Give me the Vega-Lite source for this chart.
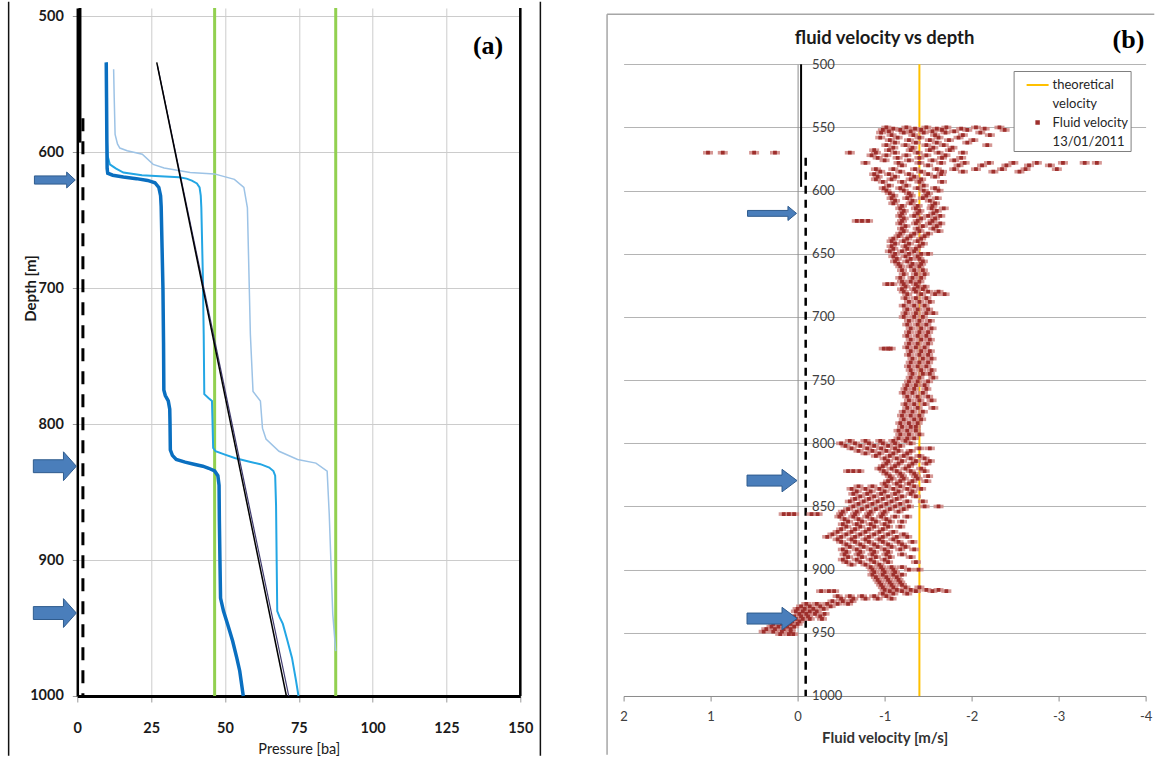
{
  "$schema": "https://vega.github.io/schema/vega-lite/v6.json",
  "background": "white",
  "padding": {"left": 7.3, "top": 0, "right": 0, "bottom": 0},
  "bounds": "flush",
  "spacing": 103.3,
  "resolve": {
    "scale": {"color": "independent", "shape": "independent", "size": "independent"},
    "legend": {"color": "independent", "shape": "independent", "size": "independent"}
  },
  "config": {"view": {"stroke": null}, "font": "Lato"},
  "datasets": {
    "thick": [{"p":9.8,"d":534},{"p":9.9,"d":560},{"p":10.0,"d":590},{"p":10.1,"d":612},{"p":10.3,"d":615.5},{"p":12,"d":617},{"p":15.6,"d":618.3},{"p":20,"d":619.5},{"p":23.8,"d":620.8},{"p":26.3,"d":622.5},{"p":27.6,"d":626},{"p":28.2,"d":632},{"p":28.4,"d":640},{"p":28.7,"d":670},{"p":29.0,"d":700},{"p":29.2,"d":740},{"p":29.3,"d":775},{"p":29.8,"d":779},{"p":30.8,"d":783},{"p":31.3,"d":789},{"p":31.4,"d":800},{"p":31.5,"d":819},{"p":32.2,"d":823},{"p":33.5,"d":826},{"p":36.5,"d":828},{"p":39.5,"d":829.5},{"p":42.5,"d":831},{"p":44.5,"d":832.5},{"p":46.5,"d":834.5},{"p":47.6,"d":838},{"p":48.0,"d":845},{"p":48.1,"d":870},{"p":48.3,"d":900},{"p":48.5,"d":928},{"p":49.5,"d":937.5},{"p":51,"d":948},{"p":52.6,"d":959.6},{"p":54,"d":972},{"p":55,"d":981.6},{"p":56.2,"d":1000}],
    "medium": [{"p":10,"d":534},{"p":10,"d":590},{"p":10.3,"d":603},{"p":11,"d":609},{"p":13,"d":612},{"p":15.6,"d":615},{"p":21.9,"d":617},{"p":28,"d":617.8},{"p":34.5,"d":618.5},{"p":37,"d":619.5},{"p":38.8,"d":621},{"p":40.5,"d":623},{"p":41.4,"d":626},{"p":41.8,"d":632},{"p":42,"d":641},{"p":42.5,"d":690},{"p":42.8,"d":734},{"p":43.0,"d":778},{"p":44.5,"d":781},{"p":45.6,"d":783},{"p":45.8,"d":800},{"p":46.0,"d":817.6},{"p":46.8,"d":820},{"p":50,"d":822.5},{"p":53.3,"d":825},{"p":58,"d":827.5},{"p":62,"d":829.5},{"p":65,"d":832},{"p":66.4,"d":834.6},{"p":67,"d":838},{"p":67.3,"d":860},{"p":67.5,"d":900},{"p":67.7,"d":937.5},{"p":68.5,"d":942},{"p":69.6,"d":947},{"p":71,"d":958},{"p":72.7,"d":972},{"p":74,"d":988},{"p":74.9,"d":1000}],
    "pale": [{"p":12.3,"d":539},{"p":12.5,"d":560},{"p":12.8,"d":587},{"p":13.6,"d":594},{"p":14.4,"d":597},{"p":16.9,"d":599},{"p":22,"d":601.6},{"p":25.7,"d":609},{"p":29.4,"d":611.6},{"p":38.2,"d":615},{"p":46.4,"d":616},{"p":53.2,"d":620},{"p":56.4,"d":626},{"p":57.6,"d":641},{"p":58.6,"d":734},{"p":59.5,"d":776},{"p":62,"d":783},{"p":62.7,"d":803},{"p":63.9,"d":811},{"p":68.3,"d":820},{"p":74.6,"d":826},{"p":80.8,"d":828.7},{"p":84.6,"d":834.6},{"p":85.3,"d":866},{"p":86.5,"d":939.7},{"p":87.5,"d":967}],
    "black1": [{"p":26.9,"d":534},{"p":70.8,"d":1000}],
    "black2": [{"p":27.2,"d":537},{"p":71.6,"d":1000}],
    "green": [{"p":46.5},{"p":87.5}],
    "tubeA": [{"p":0.9,"d":494},{"p":0.9,"d":593}],
    "casingA": [{"p":1.9,"d":575},{"p":1.9,"d":1000}],
    "arrowA1": [{"p":-7.6,"d":620.5}],
    "arrowA2": [{"p":-7.6,"d":831},{"p":-7.6,"d":939}],
    "tubeB": [{"v":-0.04,"d":500},{"v":-0.04,"d":597}],
    "casingB": [{"v":-0.093,"d":574},{"v":-0.093,"d":1000}],
    "arrowB1": [{"v":0.294,"d":618}],
    "arrowB2": [{"v":0.294,"d":829.5},{"v":0.294,"d":938.7}],
    "scatter": [
{"v":-1.02,"d":550},{"v":-1.25,"d":550},{"v":-1.48,"d":550},{"v":-1.71,"d":550},{"v":-2.05,"d":550},{"v":-2.32,"d":550},
{"v":-1.10,"d":551},{"v":-1.35,"d":551},{"v":-1.60,"d":551},{"v":-1.88,"d":551},{"v":-2.15,"d":551},
{"v":-0.98,"d":552},{"v":-1.18,"d":552},{"v":-1.42,"d":552},{"v":-1.66,"d":552},{"v":-1.95,"d":552},{"v":-2.38,"d":552},
{"v":-1.05,"d":553},{"v":-1.30,"d":553},{"v":-1.55,"d":553},{"v":-1.80,"d":553},
{"v":-0.96,"d":554},{"v":-1.22,"d":554},{"v":-1.45,"d":554},{"v":-1.70,"d":554},{"v":-2.10,"d":554},
{"v":-1.08,"d":556},{"v":-1.33,"d":556},{"v":-1.58,"d":556},{"v":-1.90,"d":556},{"v":-2.21,"d":556},
{"v":-0.95,"d":558},{"v":-1.15,"d":558},{"v":-1.40,"d":558},{"v":-1.62,"d":558},{"v":-1.85,"d":558},
{"v":-1.06,"d":560},{"v":-1.28,"d":560},{"v":-1.52,"d":560},{"v":-1.74,"d":560},{"v":-2.02,"d":560},
{"v":-1.12,"d":562},{"v":-1.36,"d":562},{"v":-1.60,"d":562},{"v":-1.95,"d":562},
{"v":-1.02,"d":564},{"v":-1.24,"d":564},{"v":-1.48,"d":564},{"v":-1.68,"d":564},{"v":-2.18,"d":564},
{"v":-1.10,"d":566},{"v":-1.32,"d":566},{"v":-1.56,"d":566},{"v":-1.78,"d":566},
{"v":-0.88,"d":568},{"v":-1.05,"d":568},{"v":-1.30,"d":568},{"v":-1.52,"d":568},{"v":-1.75,"d":568},
{"v":1.03,"d":570},{"v":0.86,"d":570},{"v":0.50,"d":570},{"v":0.26,"d":570},{"v":-0.60,"d":570},{"v":-0.90,"d":570},{"v":-1.12,"d":570},{"v":-1.38,"d":570},{"v":-1.62,"d":570},{"v":-1.90,"d":570},
{"v":-0.85,"d":572},{"v":-1.02,"d":572},{"v":-1.25,"d":572},{"v":-1.48,"d":572},{"v":-1.70,"d":572},
{"v":-0.92,"d":574},{"v":-1.15,"d":574},{"v":-1.40,"d":574},{"v":-1.66,"d":574},{"v":-1.88,"d":574},
{"v":-1.00,"d":576},{"v":-1.28,"d":576},{"v":-1.55,"d":576},{"v":-1.80,"d":576},
{"v":-0.78,"d":578},{"v":-1.16,"d":578},{"v":-1.40,"d":578},{"v":-1.65,"d":578},{"v":-1.92,"d":578},{"v":-2.20,"d":578},{"v":-2.48,"d":578},{"v":-2.75,"d":578},{"v":-3.05,"d":578},{"v":-3.30,"d":578},{"v":-3.44,"d":578},
{"v":-1.20,"d":580},{"v":-1.50,"d":580},{"v":-1.85,"d":580},{"v":-2.12,"d":580},{"v":-2.40,"d":580},{"v":-2.66,"d":580},{"v":-2.90,"d":580},
{"v":-0.90,"d":583},{"v":-1.10,"d":583},{"v":-1.35,"d":583},{"v":-1.60,"d":583},{"v":-1.80,"d":583},{"v":-2.05,"d":583},{"v":-2.35,"d":583},{"v":-2.62,"d":583},{"v":-2.98,"d":583},
{"v":-0.95,"d":585},{"v":-1.18,"d":585},{"v":-1.42,"d":585},{"v":-1.66,"d":585},{"v":-1.90,"d":585},{"v":-2.25,"d":585},{"v":-2.55,"d":585},
{"v":-0.88,"d":587},{"v":-1.05,"d":587},{"v":-1.28,"d":587},{"v":-1.50,"d":587},{"v":-1.65,"d":587},
{"v":-0.92,"d":589},{"v":-1.12,"d":589},{"v":-1.34,"d":589},{"v":-1.58,"d":589},
{"v":-0.90,"d":591},{"v":-1.08,"d":591},{"v":-1.30,"d":591},{"v":-1.42,"d":591},
{"v":-0.98,"d":593},{"v":-1.20,"d":593},{"v":-1.40,"d":593},{"v":-1.66,"d":593},
{"v":-1.05,"d":596},{"v":-1.25,"d":596},{"v":-1.45,"d":596},
{"v":-0.99,"d":598},{"v":-1.18,"d":598},{"v":-1.38,"d":598},{"v":-1.58,"d":598},
{"v":-1.02,"d":600},{"v":-1.22,"d":600},{"v":-1.45,"d":600},{"v":-1.62,"d":600},
{"v":-1.06,"d":602},{"v":-1.28,"d":602},{"v":-1.50,"d":602},
{"v":-1.10,"d":604},{"v":-1.30,"d":604},{"v":-1.48,"d":604},
{"v":-1.08,"d":606},{"v":-1.26,"d":606},{"v":-1.44,"d":606},{"v":-1.60,"d":606},
{"v":-1.12,"d":608},{"v":-1.32,"d":608},{"v":-1.52,"d":608},
{"v":-1.10,"d":610},{"v":-1.30,"d":610},{"v":-1.58,"d":610},
{"v":-1.20,"d":612},{"v":-1.38,"d":612},{"v":-1.55,"d":612},
{"v":-1.18,"d":614},{"v":-1.36,"d":614},{"v":-1.54,"d":614},{"v":-1.68,"d":614},
{"v":-1.22,"d":616},{"v":-1.40,"d":616},{"v":-1.60,"d":616},
{"v":-1.20,"d":618},{"v":-1.38,"d":618},{"v":-1.56,"d":618},
{"v":-1.18,"d":620},{"v":-1.34,"d":620},{"v":-1.50,"d":620},{"v":-1.64,"d":620},
{"v":-1.22,"d":622},{"v":-1.42,"d":622},{"v":-1.58,"d":622},
{"v":-0.68,"d":624},{"v":-0.74,"d":624},{"v":-0.81,"d":624},{"v":-1.20,"d":624},{"v":-1.38,"d":624},{"v":-1.55,"d":624},
{"v":-1.18,"d":626},{"v":-1.36,"d":626},{"v":-1.52,"d":626},{"v":-1.64,"d":626},
{"v":-1.24,"d":628},{"v":-1.44,"d":628},{"v":-1.60,"d":628},
{"v":-1.20,"d":630},{"v":-1.38,"d":630},{"v":-1.56,"d":630},
{"v":-1.22,"d":632},{"v":-1.40,"d":632},{"v":-1.62,"d":632},
{"v":-1.18,"d":634},{"v":-1.34,"d":634},{"v":-1.50,"d":634},
{"v":-1.16,"d":636},{"v":-1.30,"d":636},{"v":-1.46,"d":636},
{"v":-1.10,"d":638},{"v":-1.26,"d":638},{"v":-1.42,"d":638},
{"v":-1.08,"d":640},{"v":-1.22,"d":640},{"v":-1.38,"d":640},
{"v":-1.12,"d":642},{"v":-1.28,"d":642},{"v":-1.44,"d":642},
{"v":-1.08,"d":644},{"v":-1.24,"d":644},{"v":-1.40,"d":644},
{"v":-1.10,"d":646},{"v":-1.26,"d":646},{"v":-1.36,"d":646},
{"v":-1.06,"d":648},{"v":-1.20,"d":648},{"v":-1.34,"d":648},
{"v":-1.12,"d":650},{"v":-1.28,"d":650},{"v":-1.42,"d":650},{"v":-1.50,"d":650},
{"v":-1.10,"d":652},{"v":-1.24,"d":652},{"v":-1.38,"d":652},
{"v":-1.14,"d":654},{"v":-1.30,"d":654},{"v":-1.40,"d":654},
{"v":-1.12,"d":656},{"v":-1.26,"d":656},{"v":-1.44,"d":656},
{"v":-1.16,"d":658},{"v":-1.32,"d":658},{"v":-1.42,"d":658},
{"v":-1.18,"d":660},{"v":-1.30,"d":660},{"v":-1.40,"d":660},
{"v":-1.20,"d":663},{"v":-1.34,"d":663},{"v":-1.44,"d":663},
{"v":-1.22,"d":666},{"v":-1.36,"d":666},{"v":-1.46,"d":666},
{"v":-1.18,"d":669},{"v":-1.32,"d":669},{"v":-1.42,"d":669},
{"v":-1.20,"d":672},{"v":-1.30,"d":672},{"v":-1.40,"d":672},
{"v":-1.03,"d":674},{"v":-1.09,"d":674},{"v":-1.22,"d":674},{"v":-1.36,"d":674},
{"v":-1.24,"d":676},{"v":-1.38,"d":676},{"v":-1.46,"d":676},
{"v":-1.20,"d":678},{"v":-1.34,"d":678},{"v":-1.44,"d":678},
{"v":-1.22,"d":680},{"v":-1.36,"d":680},{"v":-1.50,"d":680},{"v":-1.62,"d":680},
{"v":-1.26,"d":682},{"v":-1.42,"d":682},{"v":-1.58,"d":682},{"v":-1.69,"d":682},
{"v":-1.24,"d":685},{"v":-1.36,"d":685},{"v":-1.48,"d":685},
{"v":-1.28,"d":688},{"v":-1.40,"d":688},{"v":-1.52,"d":688},
{"v":-1.22,"d":691},{"v":-1.34,"d":691},{"v":-1.46,"d":691},
{"v":-1.26,"d":694},{"v":-1.38,"d":694},{"v":-1.50,"d":694},
{"v":-1.24,"d":697},{"v":-1.36,"d":697},{"v":-1.48,"d":697},{"v":-1.56,"d":697},
{"v":-1.22,"d":700},{"v":-1.34,"d":700},{"v":-1.44,"d":700},
{"v":-1.28,"d":703},{"v":-1.40,"d":703},{"v":-1.52,"d":703},
{"v":-1.26,"d":706},{"v":-1.38,"d":706},{"v":-1.48,"d":706},
{"v":-1.30,"d":709},{"v":-1.42,"d":709},{"v":-1.54,"d":709},
{"v":-1.28,"d":712},{"v":-1.40,"d":712},{"v":-1.50,"d":712},
{"v":-1.26,"d":715},{"v":-1.38,"d":715},{"v":-1.48,"d":715},
{"v":-1.30,"d":718},{"v":-1.42,"d":718},{"v":-1.52,"d":718},
{"v":-1.28,"d":721},{"v":-1.38,"d":721},{"v":-1.50,"d":721},
{"v":-1.26,"d":724},{"v":-1.36,"d":724},{"v":-1.46,"d":724},
{"v":-0.99,"d":725},{"v":-1.04,"d":725},{"v":-1.07,"d":725},
{"v":-1.30,"d":727},{"v":-1.42,"d":727},{"v":-1.52,"d":727},
{"v":-1.28,"d":730},{"v":-1.40,"d":730},{"v":-1.50,"d":730},
{"v":-1.32,"d":733},{"v":-1.44,"d":733},{"v":-1.54,"d":733},
{"v":-1.30,"d":736},{"v":-1.40,"d":736},{"v":-1.50,"d":736},
{"v":-1.28,"d":739},{"v":-1.38,"d":739},{"v":-1.48,"d":739},
{"v":-1.30,"d":742},{"v":-1.42,"d":742},{"v":-1.54,"d":742},
{"v":-1.32,"d":745},{"v":-1.44,"d":745},{"v":-1.52,"d":745},
{"v":-1.30,"d":748},{"v":-1.40,"d":748},{"v":-1.56,"d":748},
{"v":-1.28,"d":751},{"v":-1.38,"d":751},{"v":-1.50,"d":751},
{"v":-1.26,"d":754},{"v":-1.36,"d":754},{"v":-1.46,"d":754},
{"v":-1.24,"d":757},{"v":-1.34,"d":757},{"v":-1.48,"d":757},
{"v":-1.22,"d":760},{"v":-1.32,"d":760},{"v":-1.44,"d":760},
{"v":-1.26,"d":763},{"v":-1.38,"d":763},{"v":-1.50,"d":763},
{"v":-1.28,"d":766},{"v":-1.40,"d":766},{"v":-1.54,"d":766},
{"v":-1.24,"d":769},{"v":-1.34,"d":769},{"v":-1.46,"d":769},
{"v":-1.26,"d":772},{"v":-1.38,"d":772},{"v":-1.56,"d":772},
{"v":-1.22,"d":775},{"v":-1.32,"d":775},{"v":-1.44,"d":775},
{"v":-1.20,"d":778},{"v":-1.30,"d":778},{"v":-1.40,"d":778},
{"v":-1.22,"d":781},{"v":-1.34,"d":781},{"v":-1.42,"d":781},
{"v":-1.18,"d":784},{"v":-1.28,"d":784},{"v":-1.38,"d":784},
{"v":-1.20,"d":787},{"v":-1.30,"d":787},{"v":-1.36,"d":787},
{"v":-1.16,"d":790},{"v":-1.26,"d":790},{"v":-1.36,"d":790},
{"v":-1.18,"d":793},{"v":-1.28,"d":793},{"v":-1.40,"d":793},
{"v":-1.16,"d":796},{"v":-1.26,"d":796},{"v":-1.34,"d":796},
{"v":-0.60,"d":798},{"v":-0.78,"d":798},{"v":-0.95,"d":798},{"v":-1.10,"d":798},{"v":-1.24,"d":798},
{"v":-0.50,"d":800},{"v":-0.66,"d":800},{"v":-0.82,"d":800},{"v":-0.98,"d":800},{"v":-1.12,"d":800},{"v":-1.30,"d":800},
{"v":-0.55,"d":802},{"v":-0.72,"d":802},{"v":-0.88,"d":802},{"v":-1.04,"d":802},{"v":-1.18,"d":802},
{"v":-0.62,"d":804},{"v":-0.80,"d":804},{"v":-0.96,"d":804},{"v":-1.12,"d":804},{"v":-1.40,"d":804},{"v":-1.52,"d":804},
{"v":-0.70,"d":806},{"v":-0.86,"d":806},{"v":-1.02,"d":806},{"v":-1.16,"d":806},{"v":-1.30,"d":806},
{"v":-0.78,"d":808},{"v":-0.94,"d":808},{"v":-1.10,"d":808},{"v":-1.26,"d":808},
{"v":-0.90,"d":810},{"v":-1.06,"d":810},{"v":-1.22,"d":810},{"v":-1.40,"d":810},
{"v":-1.00,"d":812},{"v":-1.14,"d":812},{"v":-1.30,"d":812},{"v":-1.46,"d":812},
{"v":-1.04,"d":814},{"v":-1.20,"d":814},{"v":-1.36,"d":814},{"v":-1.52,"d":814},
{"v":-1.02,"d":816},{"v":-1.16,"d":816},{"v":-1.32,"d":816},{"v":-1.48,"d":816},
{"v":-0.98,"d":818},{"v":-1.12,"d":818},{"v":-1.28,"d":818},
{"v":-0.94,"d":820},{"v":-1.08,"d":820},{"v":-1.24,"d":820},{"v":-1.42,"d":820},
{"v":-0.58,"d":822},{"v":-0.64,"d":822},{"v":-0.71,"d":822},{"v":-0.99,"d":822},{"v":-1.14,"d":822},{"v":-1.30,"d":822},{"v":-1.46,"d":822},
{"v":-1.02,"d":824},{"v":-1.18,"d":824},{"v":-1.34,"d":824},
{"v":-1.06,"d":826},{"v":-1.20,"d":826},{"v":-1.36,"d":826},{"v":-1.50,"d":826},
{"v":-1.08,"d":828},{"v":-1.22,"d":828},{"v":-1.38,"d":828},
{"v":-1.04,"d":830},{"v":-1.18,"d":830},{"v":-1.32,"d":830},{"v":-1.48,"d":830},
{"v":-1.00,"d":832},{"v":-1.14,"d":832},{"v":-1.28,"d":832},
{"v":-0.70,"d":834},{"v":-0.86,"d":834},{"v":-1.02,"d":834},{"v":-1.18,"d":834},{"v":-1.34,"d":834},
{"v":-0.62,"d":836},{"v":-0.78,"d":836},{"v":-0.94,"d":836},{"v":-1.10,"d":836},{"v":-1.26,"d":836},{"v":-1.42,"d":836},
{"v":-0.68,"d":838},{"v":-0.84,"d":838},{"v":-1.00,"d":838},{"v":-1.16,"d":838},{"v":-1.32,"d":838},
{"v":-0.64,"d":840},{"v":-0.80,"d":840},{"v":-0.96,"d":840},{"v":-1.12,"d":840},{"v":-1.30,"d":840},
{"v":-0.72,"d":842},{"v":-0.88,"d":842},{"v":-1.04,"d":842},{"v":-1.20,"d":842},{"v":-1.36,"d":842},
{"v":-0.66,"d":844},{"v":-0.82,"d":844},{"v":-0.98,"d":844},{"v":-1.14,"d":844},
{"v":-0.60,"d":846},{"v":-0.76,"d":846},{"v":-0.92,"d":846},{"v":-1.08,"d":846},{"v":-1.26,"d":846},{"v":-1.44,"d":846},
{"v":-0.70,"d":848},{"v":-0.86,"d":848},{"v":-1.02,"d":848},{"v":-1.18,"d":848},
{"v":-0.64,"d":850},{"v":-0.80,"d":850},{"v":-0.96,"d":850},{"v":-1.12,"d":850},{"v":-1.28,"d":850},{"v":-1.46,"d":850},{"v":-1.62,"d":850},
{"v":-0.58,"d":852},{"v":-0.74,"d":852},{"v":-0.90,"d":852},{"v":-1.06,"d":852},{"v":-1.22,"d":852},
{"v":-0.52,"d":854},{"v":-0.68,"d":854},{"v":-0.84,"d":854},{"v":-1.00,"d":854},{"v":-1.16,"d":854},
{"v":0.16,"d":856},{"v":0.10,"d":856},{"v":0.04,"d":856},{"v":-0.16,"d":856},{"v":-0.23,"d":856},{"v":-0.50,"d":856},{"v":-0.66,"d":856},{"v":-0.82,"d":856},{"v":-0.98,"d":856},
{"v":-0.48,"d":858},{"v":-0.64,"d":858},{"v":-0.80,"d":858},{"v":-0.96,"d":858},{"v":-1.12,"d":858},{"v":-1.26,"d":858},
{"v":-0.54,"d":860},{"v":-0.70,"d":860},{"v":-0.86,"d":860},{"v":-1.02,"d":860},
{"v":-0.58,"d":862},{"v":-0.74,"d":862},{"v":-0.90,"d":862},{"v":-1.06,"d":862},{"v":-1.20,"d":862},
{"v":-0.52,"d":864},{"v":-0.68,"d":864},{"v":-0.84,"d":864},{"v":-1.00,"d":864},
{"v":-0.56,"d":866},{"v":-0.72,"d":866},{"v":-0.88,"d":866},{"v":-1.04,"d":866},{"v":-1.18,"d":866},
{"v":-0.50,"d":868},{"v":-0.66,"d":868},{"v":-0.82,"d":868},{"v":-0.98,"d":868},
{"v":-0.46,"d":870},{"v":-0.62,"d":870},{"v":-0.78,"d":870},{"v":-0.94,"d":870},{"v":-1.10,"d":870},
{"v":-0.40,"d":872},{"v":-0.56,"d":872},{"v":-0.72,"d":872},{"v":-0.88,"d":872},{"v":-1.04,"d":872},{"v":-1.22,"d":872},
{"v":-0.34,"d":874},{"v":-0.50,"d":874},{"v":-0.66,"d":874},{"v":-0.82,"d":874},{"v":-0.98,"d":874},{"v":-1.14,"d":874},{"v":-1.26,"d":874},
{"v":-0.46,"d":876},{"v":-0.62,"d":876},{"v":-0.78,"d":876},{"v":-0.94,"d":876},{"v":-1.10,"d":876},
{"v":-0.50,"d":878},{"v":-0.66,"d":878},{"v":-0.82,"d":878},{"v":-0.98,"d":878},{"v":-1.16,"d":878},{"v":-1.32,"d":878},
{"v":-0.56,"d":880},{"v":-0.72,"d":880},{"v":-0.88,"d":880},{"v":-1.04,"d":880},{"v":-1.20,"d":880},
{"v":-0.60,"d":882},{"v":-0.76,"d":882},{"v":-0.92,"d":882},{"v":-1.08,"d":882},{"v":-1.24,"d":882},
{"v":-0.52,"d":884},{"v":-0.68,"d":884},{"v":-0.84,"d":884},{"v":-1.00,"d":884},{"v":-1.18,"d":884},{"v":-1.34,"d":884},
{"v":-0.56,"d":886},{"v":-0.72,"d":886},{"v":-0.88,"d":886},{"v":-1.04,"d":886},
{"v":-0.54,"d":888},{"v":-0.70,"d":888},{"v":-0.86,"d":888},{"v":-1.02,"d":888},{"v":-1.20,"d":888},
{"v":-0.58,"d":890},{"v":-0.74,"d":890},{"v":-0.90,"d":890},{"v":-1.06,"d":890},{"v":-1.30,"d":890},
{"v":-0.52,"d":892},{"v":-0.68,"d":892},{"v":-0.84,"d":892},{"v":-1.00,"d":892},
{"v":-0.56,"d":894},{"v":-0.72,"d":894},{"v":-0.88,"d":894},{"v":-1.04,"d":894},{"v":-1.36,"d":894},
{"v":-0.62,"d":896},{"v":-0.78,"d":896},{"v":-0.94,"d":896},
{"v":-0.84,"d":898},{"v":-0.96,"d":898},{"v":-1.08,"d":898},{"v":-1.20,"d":898},
{"v":-0.86,"d":900},{"v":-0.98,"d":900},{"v":-1.10,"d":900},{"v":-1.28,"d":900},{"v":-1.39,"d":900},
{"v":-0.88,"d":902},{"v":-1.00,"d":902},{"v":-1.12,"d":902},
{"v":-0.86,"d":904},{"v":-0.98,"d":904},{"v":-1.10,"d":904},{"v":-1.20,"d":904},
{"v":-0.90,"d":906},{"v":-1.02,"d":906},{"v":-1.14,"d":906},
{"v":-0.92,"d":908},{"v":-1.04,"d":908},{"v":-1.16,"d":908},
{"v":-0.94,"d":910},{"v":-1.06,"d":910},{"v":-1.18,"d":910},
{"v":-0.96,"d":912},{"v":-1.08,"d":912},{"v":-1.20,"d":912},
{"v":-0.98,"d":914},{"v":-1.10,"d":914},{"v":-1.24,"d":914},{"v":-1.40,"d":914},
{"v":-1.00,"d":916},{"v":-1.14,"d":916},{"v":-1.30,"d":916},{"v":-1.48,"d":916},{"v":-1.62,"d":916},
{"v":-0.27,"d":917},{"v":-0.36,"d":917},{"v":-0.42,"d":917},{"v":-1.06,"d":917},{"v":-1.20,"d":917},{"v":-1.36,"d":917},{"v":-1.55,"d":917},{"v":-1.71,"d":917},
{"v":-0.98,"d":919},{"v":-1.10,"d":919},{"v":-1.26,"d":919},
{"v":-0.46,"d":921},{"v":-0.60,"d":921},{"v":-0.74,"d":921},{"v":-0.88,"d":921},{"v":-1.02,"d":921},
{"v":-0.50,"d":923},{"v":-0.64,"d":923},{"v":-0.78,"d":923},{"v":-0.92,"d":923},{"v":-1.08,"d":923},
{"v":-0.40,"d":925},{"v":-0.52,"d":925},{"v":-0.62,"d":925},
{"v":-0.10,"d":927},{"v":-0.22,"d":927},{"v":-0.34,"d":927},{"v":-0.46,"d":927},{"v":-0.58,"d":927},
{"v":-0.04,"d":929},{"v":-0.14,"d":929},{"v":-0.26,"d":929},{"v":-0.38,"d":929},
{"v":0.00,"d":931},{"v":-0.08,"d":931},{"v":-0.18,"d":931},{"v":-0.30,"d":931},
{"v":0.02,"d":933},{"v":-0.06,"d":933},{"v":-0.14,"d":933},{"v":-0.22,"d":933},
{"v":-0.02,"d":935},{"v":-0.10,"d":935},{"v":-0.20,"d":935},{"v":-0.31,"d":935},
{"v":0.04,"d":937},{"v":-0.04,"d":937},{"v":-0.12,"d":937},{"v":-0.26,"d":937},
{"v":0.10,"d":939},{"v":0.02,"d":939},{"v":-0.06,"d":939},{"v":-0.14,"d":939},{"v":-0.28,"d":939},
{"v":0.22,"d":941},{"v":0.14,"d":941},{"v":0.06,"d":941},{"v":-0.02,"d":941},
{"v":0.28,"d":943},{"v":0.18,"d":943},{"v":0.08,"d":943},{"v":0.00,"d":943},
{"v":0.30,"d":945},{"v":0.22,"d":945},{"v":0.12,"d":945},{"v":0.04,"d":945},
{"v":0.36,"d":947},{"v":0.26,"d":947},{"v":0.16,"d":947},{"v":0.08,"d":947},
{"v":0.39,"d":949},{"v":0.28,"d":949},{"v":0.18,"d":949},{"v":0.08,"d":949},
{"v":0.20,"d":951},{"v":0.10,"d":951},{"v":0.05,"d":951}
    ]
  },
  "hconcat": [
    {
      "width": 443,
      "height": 688,
      "layer": [
        {
          "data": {"values": [{}]},
          "mark": {"type": "rule", "color": "#111111", "strokeWidth": 1.5},
          "encoding": {"x": {"datum": -23.25}, "y": {"datum": 489.4}, "y2": {"datum": 1044}}
        },
        {
          "data": {"values": [{}]},
          "mark": {"type": "rule", "color": "#111111", "strokeWidth": 1.5},
          "encoding": {"x": {"datum": 156.8}, "y": {"datum": 489.4}, "y2": {"datum": 1044}}
        },
        {
          "data": {"name": "green"},
          "mark": {"type": "rule", "color": "#92d050", "strokeWidth": 3},
          "encoding": {
            "x": {
              "field": "p", "type": "quantitative",
              "scale": {"domain": [0, 150], "nice": false, "zero": false},
              "axis": {
                "values": [0, 25, 50, 75, 100, 125, 150], "format": "d",
                "grid": true, "gridColor": "#cccccc", "gridWidth": 1,
                "domainColor": "#000000", "domainWidth": 3,
                "tickColor": "#9a9a9a", "tickSize": 6, "tickWidth": 1,
                "labelFont": "Lato", "labelFontSize": 14.5, "labelFontWeight": "bold", "labelColor": "#1a1a1a",
                "labelPadding": 20, "labelFlush": false, "labelOverlap": false,
                "title": "Pressure [ba]", "titleFont": "Lato", "titleFontSize": 14.5, "titleFontWeight": "normal",
                "titleColor": "#1a1a1a", "titlePadding": 7
              }
            }
          }
        },
        {
          "data": {"name": "pale"},
          "mark": {"type": "line", "color": "#9dc3e6", "strokeWidth": 1.5},
          "encoding": {
            "x": {"field": "p", "type": "quantitative"},
            "y": {
              "field": "d", "type": "quantitative",
              "scale": {"domain": [494, 1000], "reverse": true, "nice": false, "zero": false},
              "axis": {
                "values": [500, 600, 700, 800, 900, 1000], "format": "d",
                "grid": true, "gridColor": "#cccccc", "gridWidth": 1,
                "domainColor": "#000000", "domainWidth": 2.5,
                "tickColor": "#9a9a9a", "tickSize": 5,
                "labelFont": "Lato", "labelFontSize": 14.5, "labelFontWeight": "bold", "labelColor": "#1a1a1a",
                "labelPadding": 9, "labelOverlap": false,
                "title": "Depth [m]", "titleFont": "Lato", "titleFontSize": 15, "titleFontWeight": "bold",
                "titleColor": "#1a1a1a", "titleX": -47, "titleY": 280, "titleBaseline": "middle", "titleAngle": -90
              }
            },
            "order": {"field": "d", "type": "quantitative"}
          }
        },
        {
          "data": {"name": "medium"},
          "mark": {"type": "line", "color": "#23a6e4", "strokeWidth": 2},
          "encoding": {"x": {"field": "p", "type": "quantitative"}, "y": {"field": "d", "type": "quantitative"}, "order": {"field": "d", "type": "quantitative"}}
        },
        {
          "data": {"name": "thick"},
          "mark": {"type": "line", "color": "#0a6fc0", "strokeWidth": 3.5},
          "encoding": {"x": {"field": "p", "type": "quantitative"}, "y": {"field": "d", "type": "quantitative"}, "order": {"field": "d", "type": "quantitative"}}
        },
        {
          "data": {"name": "black2"},
          "mark": {"type": "line", "color": "#3f3a6e", "strokeWidth": 1.2},
          "encoding": {"x": {"field": "p", "type": "quantitative"}, "y": {"field": "d", "type": "quantitative"}, "order": {"field": "d", "type": "quantitative"}}
        },
        {
          "data": {"name": "black1"},
          "mark": {"type": "line", "color": "#000000", "strokeWidth": 1.5},
          "encoding": {"x": {"field": "p", "type": "quantitative"}, "y": {"field": "d", "type": "quantitative"}, "order": {"field": "d", "type": "quantitative"}}
        },
        {
          "data": {"name": "tubeA"},
          "mark": {"type": "line", "color": "#000000", "strokeWidth": 3},
          "encoding": {"x": {"field": "p", "type": "quantitative"}, "y": {"field": "d", "type": "quantitative"}, "order": {"field": "d", "type": "quantitative"}}
        },
        {
          "data": {"name": "casingA"},
          "mark": {"type": "line", "color": "#000000", "strokeWidth": 3, "strokeDash": [13, 10]},
          "encoding": {"x": {"field": "p", "type": "quantitative"}, "y": {"field": "d", "type": "quantitative"}, "order": {"field": "d", "type": "quantitative"}}
        },
        {
          "data": {"values": [{}]},
          "mark": {"type": "rule", "color": "#000000", "strokeWidth": 2.5},
          "encoding": {"x": {"datum": 150}}
        },
        {
          "data": {"name": "arrowA1"},
          "mark": {"type": "point", "filled": true, "opacity": 1, "fill": "#4a7ebb", "stroke": "#2f5b8e", "strokeWidth": 1, "size": 1849,
                   "shape": "M-0.95,-0.19L0.55,-0.19L0.55,-0.37L0.95,0L0.55,0.37L0.55,0.19L-0.95,0.19Z"},
          "encoding": {"x": {"field": "p", "type": "quantitative"}, "y": {"field": "d", "type": "quantitative"}}
        },
        {
          "data": {"name": "arrowA2"},
          "mark": {"type": "point", "filled": true, "opacity": 1, "fill": "#4a7ebb", "stroke": "#2f5b8e", "strokeWidth": 1, "size": 1849,
                   "shape": "M-1,-0.3L0.4,-0.3L0.4,-0.67L1,0L0.4,0.67L0.4,0.3L-1,0.3Z"},
          "encoding": {"x": {"field": "p", "type": "quantitative"}, "y": {"field": "d", "type": "quantitative"}}
        },
        {
          "data": {"values": [{}]},
          "mark": {"type": "text", "text": "(a)", "font": "Liberation Serif", "fontSize": 26, "fontWeight": "bold", "color": "#000000", "align": "center", "baseline": "middle"},
          "encoding": {"x": {"datum": 139.1}, "y": {"datum": 521.9}}
        }
      ]
    },
    {
      "width": 522,
      "height": 688,
      "layer": [
        {
          "data": {"values": [{}]},
          "mark": {"type": "rule", "color": "#a6a6a6", "strokeWidth": 1.5},
          "encoding": {"x": {"datum": 2.19}, "x2": {"datum": -4.1}, "y": {"datum": 460.4}}
        },
        {
          "data": {"values": [{}]},
          "mark": {"type": "rule", "color": "#a6a6a6", "strokeWidth": 1.5},
          "encoding": {"x": {"datum": 2.19}, "y": {"datum": 460.4}, "y2": {"datum": 1046.5}}
        },
        {
          "data": {"values": [{}]},
          "mark": {"type": "rule", "strokeWidth": 2},
          "encoding": {
            "x": {"datum": -1.4}, "y": {"datum": 500}, "y2": {"datum": 1000},
            "color": {"datum": "theoretical|velocity"}
          }
        },
        {
          "data": {"name": "tubeB"},
          "mark": {"type": "line", "color": "#000000", "strokeWidth": 2},
          "encoding": {"x": {"field": "v", "type": "quantitative"}, "y": {"field": "d", "type": "quantitative"}, "order": {"field": "d", "type": "quantitative"}}
        },
        {
          "data": {"name": "casingB"},
          "mark": {"type": "line", "color": "#000000", "strokeWidth": 2.5, "strokeDash": [8, 6]},
          "encoding": {"x": {"field": "v", "type": "quantitative"}, "y": {"field": "d", "type": "quantitative"}, "order": {"field": "d", "type": "quantitative"}}
        },
        {
          "data": {"name": "scatter"},
          "mark": {"type": "point", "filled": true, "opacity": 0.85, "color": "#cf8682", "size": 100, "shape": "M-1,-0.36H1V0.36H-1Z"},
          "encoding": {
            "x": {
              "field": "v", "type": "quantitative",
              "scale": {"domain": [-4, 2], "reverse": true, "nice": false, "zero": false},
              "axis": {
                "values": [2, 1, 0, -1, -2, -3, -4], "labelExpr": "'' + datum.value",
                "grid": false, "domainColor": "#8c8c8c", "domainWidth": 1,
                "tickColor": "#8c8c8c", "tickSize": 5,
                "labelFont": "Lato", "labelFontSize": 13, "labelColor": "#404040",
                "labelPadding": 10, "labelFlush": false, "labelOverlap": false,
                "title": "Fluid velocity [m/s]", "titleFont": "Lato", "titleFontSize": 15, "titleFontWeight": "bold",
                "titleColor": "#333333", "titlePadding": 7
              }
            },
            "y": {
              "field": "d", "type": "quantitative",
              "scale": {"domain": [500, 1000], "range": [56.3, 688], "nice": false, "zero": false},
              "axis": {
                "orient": "right", "offset": -348,
                "values": [500, 550, 600, 650, 700, 750, 800, 850, 900, 950, 1000], "format": "d",
                "grid": true, "gridColor": "#b4b4b4", "gridWidth": 1,
                "domainColor": "#8c8c8c", "domainWidth": 1,
                "ticks": false, "tickSize": 0,
                "labelFont": "Lato", "labelFontSize": 13, "labelColor": "#404040",
                "labelPadding": 14, "labelOverlap": false, "title": null
              }
            }
          }
        },
        {
          "data": {"name": "scatter"},
          "mark": {"type": "point", "filled": false, "fill": "#9e302d", "opacity": 1, "strokeWidth": 1.3},
          "encoding": {
            "x": {"field": "v", "type": "quantitative"},
            "y": {"field": "d", "type": "quantitative"},
            "color": {
              "datum": "Fluid velocity|13/01/2011",
              "scale": {"domain": ["theoretical|velocity", "Fluid velocity|13/01/2011"], "range": ["#ffc000", "#9e302d"]},
              "legend": {
                "orient": "none", "legendX": 390, "legendY": 63, "title": null,
                "padding": 2, "symbolOffset": 10, "strokeColor": "#7f7f7f", "fillColor": "#ffffff",
                "labelFont": "Lato", "labelFontSize": 13, "labelColor": "#262626",
                "labelExpr": "split(datum.label, '|')", "symbolStrokeWidth": 2,
                "rowPadding": 4, "labelOffset": 3, "labelLimit": 200,
                "encoding": {"labels": {"lineHeight": {"value": 19.5}}}
              }
            },
            "shape": {
              "datum": "Fluid velocity|13/01/2011",
              "scale": {"domain": ["theoretical|velocity", "Fluid velocity|13/01/2011"], "range": ["stroke", "square"]},
              "legend": {
                "orient": "none", "legendX": 390, "legendY": 63, "title": null,
                "padding": 2, "symbolOffset": 10, "strokeColor": "#7f7f7f", "fillColor": "#ffffff",
                "labelFont": "Lato", "labelFontSize": 13, "labelColor": "#262626",
                "labelExpr": "split(datum.label, '|')", "symbolStrokeWidth": 2,
                "rowPadding": 4, "labelOffset": 3, "labelLimit": 200,
                "encoding": {"labels": {"lineHeight": {"value": 19.5}}}
              }
            },
            "size": {
              "datum": "Fluid velocity|13/01/2011",
              "scale": {"domain": ["theoretical|velocity", "Fluid velocity|13/01/2011"], "range": [484, 6]},
              "legend": {
                "orient": "none", "legendX": 390, "legendY": 63, "title": null,
                "padding": 2, "symbolOffset": 10, "strokeColor": "#7f7f7f", "fillColor": "#ffffff",
                "labelFont": "Lato", "labelFontSize": 13, "labelColor": "#262626",
                "labelExpr": "split(datum.label, '|')", "symbolStrokeWidth": 2,
                "rowPadding": 4, "labelOffset": 3, "labelLimit": 200,
                "encoding": {"labels": {"lineHeight": {"value": 19.5}}}
              }
            }
          }
        },
        {
          "data": {"name": "arrowB1"},
          "mark": {"type": "point", "filled": true, "opacity": 1, "fill": "#4a7ebb", "stroke": "#2f5b8e", "strokeWidth": 1, "size": 2400,
                   "shape": "M-1,-0.12L0.65,-0.12L0.65,-0.29L1,0L0.65,0.29L0.65,0.12L-1,0.12Z"},
          "encoding": {"x": {"field": "v", "type": "quantitative"}, "y": {"field": "d", "type": "quantitative"}}
        },
        {
          "data": {"name": "arrowB2"},
          "mark": {"type": "point", "filled": true, "opacity": 1, "fill": "#4a7ebb", "stroke": "#2f5b8e", "strokeWidth": 1, "size": 2500,
                   "shape": "M-1,-0.22L0.4,-0.22L0.4,-0.45L1,0L0.4,0.45L0.4,0.22L-1,0.22Z"},
          "encoding": {"x": {"field": "v", "type": "quantitative"}, "y": {"field": "d", "type": "quantitative"}}
        },
        {
          "data": {"values": [{}]},
          "mark": {"type": "text", "text": "fluid velocity vs depth", "font": "Lato", "fontSize": 18.5, "fontWeight": "bold", "color": "#1a1a1a", "align": "center", "baseline": "middle"},
          "encoding": {"x": {"datum": -1.0}, "y": {"datum": 478.9}}
        },
        {
          "data": {"values": [{}]},
          "mark": {"type": "text", "text": "(b)", "font": "Liberation Serif", "fontSize": 26, "fontWeight": "bold", "color": "#000000", "align": "center", "baseline": "middle"},
          "encoding": {"x": {"datum": -3.803}, "y": {"datum": 480.8}}
        }
      ]
    }
  ]
}
